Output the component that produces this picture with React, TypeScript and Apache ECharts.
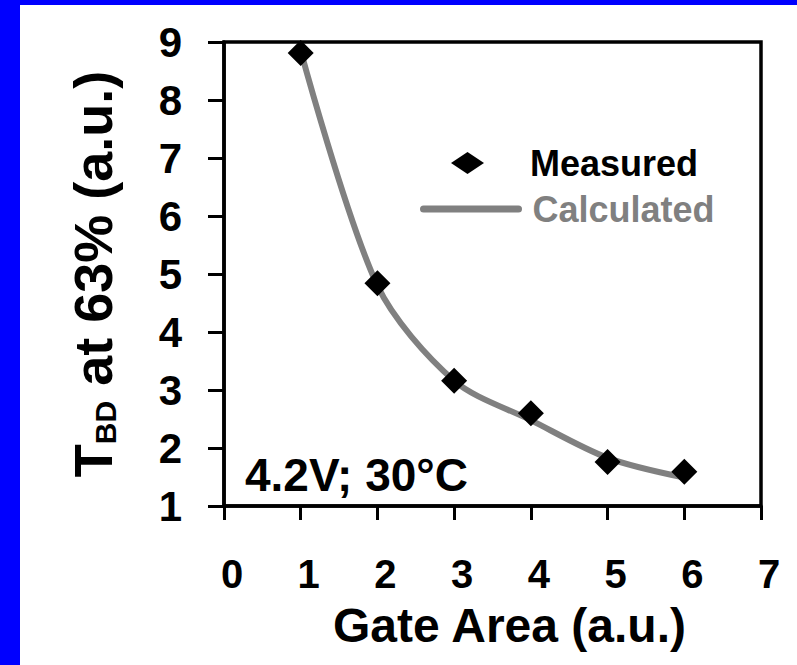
import React, { useEffect, useRef } from "react";
import * as echarts from "echarts";

// Gate area (a.u.) at which breakdown was characterised
const gateArea = [1, 2, 3, 4, 5, 6];
// Time to breakdown at 63% failure (a.u.)
const measured = [8.81, 4.84, 3.16, 2.6, 1.76, 1.59];
const calculated = [8.85, 4.8, 3.16, 2.48, 1.83, 1.49];

const xTicks = { min: 0, max: 7, step: 1 };
const yTicks = { min: 1, max: 9, step: 1 };

const FONT = "'Liberation Sans', Arial, Helvetica, sans-serif";

export default function App() {
  const ref = useRef<HTMLDivElement>(null);

  useEffect(() => {
    if (!ref.current) return;
    const chart = echarts.init(ref.current, undefined, { renderer: "svg" });

    const measuredData = gateArea.map((x, i) => [x, measured[i]]);
    const calculatedData = gateArea.map((x, i) => [x, calculated[i]]);

    chart.setOption({
      animation: false,
      backgroundColor: "#ffffff",
      textStyle: { fontFamily: FONT, fontWeight: "bold" },
      graphic: [
        { type: "rect", shape: { x: 0, y: 0, width: 20, height: 665 }, style: { fill: "#0000ff" }, z: -10 },
        { type: "rect", shape: { x: 0, y: 0, width: 797, height: 5 }, style: { fill: "#0000ff" }, z: -10 },
        {
          type: "text",
          x: 245,
          y: 475,
          style: {
            text: "4.2V; 30°C",
            font: `bold 46px ${FONT}`,
            fill: "#000000",
            textAlign: "left",
            textVerticalAlign: "middle",
          },
          z: 10,
        },
      ],
      grid: {
        left: 224,
        right: 36,
        top: 42,
        bottom: 159,
        show: true,
        borderColor: "#000000",
        borderWidth: 3.5,
        backgroundColor: "transparent",
      },
      legend: [
        {
          data: [{ name: "Measured", icon: "diamond" }],
          left: 451,
          top: 145,
          padding: 0,
          itemWidth: 33,
          itemHeight: 22,
          symbolKeepAspect: false,
          selectedMode: false,
          itemStyle: { color: "#000000", opacity: 1 },
          textStyle: {
            color: "#000000",
            fontSize: 36,
            fontWeight: "bold",
            fontFamily: FONT,
            padding: [0, 0, 0, 41],
          },
        },
        {
          data: ["Calculated"],
          left: 420,
          top: 191,
          padding: 0,
          itemWidth: 95,
          itemHeight: 14,
          selectedMode: false,
          itemStyle: { opacity: 0 },
          lineStyle: { color: "#808080", width: 7, cap: "round" },
          textStyle: {
            color: "#808080",
            fontSize: 36,
            fontWeight: "bold",
            fontFamily: FONT,
            padding: [0, 0, 10, 9],
          },
        },
      ],
      xAxis: {
        type: "value",
        min: xTicks.min,
        max: xTicks.max,
        interval: xTicks.step,
        name: "Gate Area (a.u.)",
        nameLocation: "middle",
        nameGap: 95,
        nameTextStyle: {
          color: "#000000",
          fontSize: 48,
          fontWeight: "bold",
          fontFamily: FONT,
          padding: [0, 0, 0, 34],
        },
        axisLine: { show: true, lineStyle: { color: "#000000", width: 3.5 } },
        axisTick: { show: true, inside: false, length: 14, lineStyle: { color: "#000000", width: 3 } },
        axisLabel: {
          color: "#000000",
          fontSize: 40,
          fontWeight: "bold",
          fontFamily: FONT,
          margin: 48,
          padding: [0, 0, 0, 16],
        },
        splitLine: { show: false },
      },
      yAxis: {
        type: "value",
        min: yTicks.min,
        max: yTicks.max,
        interval: yTicks.step,
        name: "{t|T}{s|BD}{t| at 63% (a.u.)}",
        nameLocation: "middle",
        nameRotate: 90,
        nameGap: 104,
        nameTextStyle: {
          color: "#000000",
          fontFamily: FONT,
          fontWeight: "bold",
          rich: {
            t: { fontSize: 54, fontWeight: "bold", fontFamily: FONT, color: "#000000" },
            s: {
              fontSize: 30,
              fontWeight: "bold",
              fontFamily: FONT,
              color: "#000000",
              verticalAlign: "bottom",
              lineHeight: 42,
            },
          },
        },
        axisLine: { show: true, lineStyle: { color: "#000000", width: 3.5 } },
        axisTick: { show: true, inside: false, length: 16, lineStyle: { color: "#000000", width: 3 } },
        axisLabel: {
          color: "#000000",
          fontSize: 42,
          fontWeight: "bold",
          fontFamily: FONT,
          margin: 42,
          padding: [10, 0, 0, 0],
        },
        splitLine: { show: false },
      },
      series: [
        {
          name: "Calculated",
          type: "line",
          data: calculatedData,
          symbol: "none",
          smooth: 0.3,
          lineStyle: { color: "#808080", width: 6 },
          itemStyle: { color: "#808080" },
          z: 2,
        },
        {
          name: "Measured",
          type: "scatter",
          data: measuredData,
          symbol: "diamond",
          symbolSize: 26,
          itemStyle: { color: "#000000", opacity: 1 },
          z: 3,
        },
      ],
    });

    return () => chart.dispose();
  }, []);

  return (
    <div
      ref={ref}
      style={{ position: "absolute", left: 0, top: 0, width: 797, height: 665 }}
    />
  );
}
